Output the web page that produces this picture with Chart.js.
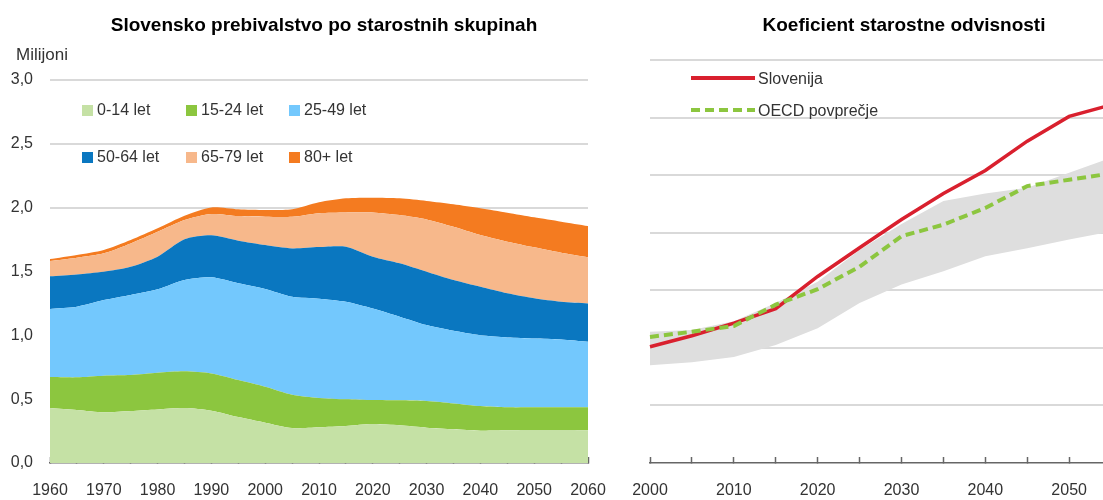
<!DOCTYPE html>
<html>
<head>
<meta charset="utf-8">
<script src="https://cdn.jsdelivr.net/npm/chart.js@4.4.0/dist/chart.umd.min.js"></script>
<style>
  html, body { margin: 0; padding: 0; background: #fff; overflow: hidden; }
  #wrap { position: relative; width: 1103px; height: 500px; overflow: hidden; }
  #popChart { position: absolute; left: 0; top: 0; }
  #ratioChart { position: absolute; left: 600px; top: 0; }
  .txt { position: absolute; font-family: 'Liberation Sans', Arial, sans-serif; font-size: 16px; color: #333; white-space: nowrap; line-height: 22px; }
  .box { display: inline-block; width: 11px; height: 11px; margin-right: 4px; vertical-align: -1px; }
</style>
</head>
<body>
<div id="wrap">
  <canvas id="popChart" width="648" height="500"></canvas>
  <canvas id="ratioChart" width="608" height="500"></canvas>
  <div class="txt" style="left:16px;top:44px;font-size:17px">Milijoni</div>
  <div id="popLegend"></div>
  <div id="ratioLegend"></div>
</div>
<script>
// population by age group, millions
var years = [1960, 1965, 1970, 1975, 1980, 1985, 1990, 1995, 2000, 2005, 2010,
             2015, 2020, 2025, 2030, 2035, 2040, 2045, 2050, 2055, 2060]
var age0_14  = [0.430, 0.415, 0.397, 0.407, 0.420, 0.430, 0.410, 0.360, 0.316, 0.274, 0.280, 0.290, 0.305, 0.295, 0.277, 0.264, 0.253, 0.256, 0.258, 0.258, 0.256]
var age15_24 = [0.243, 0.256, 0.287, 0.282, 0.287, 0.288, 0.292, 0.290, 0.282, 0.261, 0.230, 0.209, 0.188, 0.196, 0.209, 0.203, 0.193, 0.180, 0.178, 0.178, 0.180]
var age25_49 = [0.533, 0.553, 0.592, 0.627, 0.653, 0.715, 0.752, 0.757, 0.765, 0.767, 0.777, 0.764, 0.717, 0.655, 0.594, 0.568, 0.554, 0.548, 0.540, 0.532, 0.514]
var age50_64 = [0.256, 0.253, 0.222, 0.221, 0.256, 0.319, 0.329, 0.334, 0.344, 0.379, 0.404, 0.431, 0.406, 0.418, 0.418, 0.398, 0.380, 0.345, 0.314, 0.295, 0.300]
var age65_79 = [0.120, 0.131, 0.144, 0.183, 0.195, 0.151, 0.167, 0.193, 0.222, 0.248, 0.266, 0.269, 0.347, 0.378, 0.410, 0.417, 0.405, 0.404, 0.399, 0.384, 0.361]
var age80p   = [0.015, 0.021, 0.026, 0.026, 0.027, 0.034, 0.052, 0.053, 0.052, 0.058, 0.085, 0.110, 0.115, 0.131, 0.144, 0.176, 0.210, 0.227, 0.235, 0.243, 0.245]
var ageLabels = ['0-14 let', '15-24 let', '25-49 let', '50-64 let', '65-79 let', '80+ let']
var ageColors = ['#c5e1a5', '#8cc63f', '#73c8fd', '#0a77c0', '#f7b88b', '#f47b20']

// old-age dependency ratio
var ratioYears = [2000, 2005, 2010, 2015, 2020, 2025, 2030, 2035, 2040, 2045, 2050, 2055, 2060]
var slovenia = [20.2, 22.1, 24.3, 26.8, 32.4, 37.4, 42.3, 46.8, 50.8, 55.9, 60.2, 62.2, 63.0]
var oecd     = [21.9, 22.8, 23.8, 27.5, 30.2, 34.1, 39.4, 41.4, 44.3, 48.1, 49.2, 50.3, 51.0]
var bandLow  = [17.0, 17.5, 18.4, 20.5, 23.4, 27.8, 31.0, 33.3, 35.9, 37.3, 38.8, 40.2, 41.0]
var bandHigh = [22.8, 23.1, 24.6, 27.8, 31.5, 37.0, 41.5, 45.5, 46.8, 47.8, 50.4, 53.0, 55.0]

var FONT = "'Liberation Sans', Arial, sans-serif"
Chart.defaults.font.family = FONT
Chart.defaults.color = '#333'

var ageSeries = [age0_14, age15_24, age25_49, age50_64, age65_79, age80p]
var popDatasets = []
ageSeries.forEach(function (vals, i) {
  popDatasets.push({
    label: ageLabels[i],
    data: vals,
    backgroundColor: ageColors[i],
    borderWidth: 0,
    pointRadius: 0,
    fill: i === 0 ? 'origin' : '-1',
    tension: 0.25
  })
})

var popChart = new Chart(document.getElementById('popChart'), {
  type: 'line',
  data: { labels: years, datasets: popDatasets },
  options: {
    responsive: false,
    animation: false,
    devicePixelRatio: 1,
    layout: { padding: { left: 0, right: 0, top: 0, bottom: 1 } },
    plugins: {
      legend: { display: false },
      tooltip: { enabled: false },
      title: {
        display: true,
        text: 'Slovensko prebivalstvo po starostnih skupinah',
        color: '#000',
        font: { size: 19, weight: 'bold' },
        padding: { top: 14, bottom: 43.2 }
      }
    },
    scales: {
      x: {
        afterFit: function (s) { s.height = 36 },
        grid: { drawOnChartArea: false, color: '#666', tickLength: -6, tickWidth: 1.5 },
        border: { color: '#666', width: 1.5 },
        ticks: {
          autoSkip: false, maxRotation: 0, padding: 24, font: { size: 16 },
          callback: function (v, i) { return i % 2 === 0 ? years[i] : '' }
        }
      },
      y: {
        stacked: true,
        min: 0, max: 3,
        afterFit: function (s) { s.width = 50 },
        grid: {
          drawTicks: false, lineWidth: 2,
          color: function (c) { return c.tick && c.tick.value === 0 ? 'rgba(0,0,0,0)' : '#d9d9d9' }
        },
        border: { display: false },
        ticks: {
          stepSize: 0.5, padding: 17, font: { size: 16 },
          callback: function (v) { return v.toFixed(1).replace('.', ',') }
        }
      },
      yPad: {
        position: 'right',
        afterFit: function (s) { s.width = 60 },
        grid: { display: false }, border: { display: false }, ticks: { display: false }
      }
    }
  }
})

var ratioChart = new Chart(document.getElementById('ratioChart'), {
  type: 'line',
  data: {
    labels: ratioYears,
    datasets: [
      { label: 'OECD povprečje', data: oecd, borderColor: '#8cc63f', borderWidth: 4, borderDash: [9, 5], pointRadius: 0, fill: false },
      { label: 'Slovenija', data: slovenia, borderColor: '#d9202e', borderWidth: 3.5, pointRadius: 0, fill: false },
      { label: 'low', data: bandLow, borderWidth: 0, pointRadius: 0, fill: false },
      { label: 'high', data: bandHigh, borderWidth: 0, pointRadius: 0, fill: '-1', backgroundColor: '#dedede' }
    ]
  },
  options: {
    responsive: false,
    animation: false,
    devicePixelRatio: 1,
    layout: { padding: { left: 0, right: 0, top: 0, bottom: 1 } },
    plugins: {
      legend: { display: false },
      tooltip: { enabled: false },
      title: {
        display: true,
        text: 'Koeficient starostne odvisnosti',
        color: '#000',
        font: { size: 19, weight: 'bold' },
        padding: { top: 14, bottom: 23.2 }
      }
    },
    scales: {
      x: {
        afterFit: function (s) { s.height = 36 },
        grid: { drawOnChartArea: false, color: '#666', tickLength: -6, tickWidth: 1.5 },
        border: { color: '#666', width: 1.5 },
        ticks: {
          autoSkip: false, maxRotation: 0, padding: 24, font: { size: 16 },
          callback: function (v, i) { return i % 2 === 0 ? ratioYears[i] : '' }
        }
      },
      y: {
        min: 0, max: 70,
        afterFit: function (s) { s.width = 50 },
        grid: {
          drawTicks: false, lineWidth: 2,
          color: function (c) { return c.tick && c.tick.value === 0 ? 'rgba(0,0,0,0)' : '#d9d9d9' }
        },
        border: { display: false },
        ticks: { display: false, stepSize: 10 }
      },
      yPad: {
        position: 'right',
        afterFit: function (s) { s.width = 55 },
        grid: { display: false }, border: { display: false }, ticks: { display: false }
      }
    }
  }
})

// legends built from the chart datasets
var popLeg = document.getElementById('popLegend')
var cols = [82, 186, 289], rows = [99, 146]
popChart.data.datasets.forEach(function (ds, i) {
  var d = document.createElement('div')
  d.className = 'txt'
  d.style.left = cols[i % 3] + 'px'
  d.style.top = rows[Math.floor(i / 3)] + 'px'
  d.innerHTML = '<span class="box" style="background:' + ds.backgroundColor + '"></span>' + ds.label
  popLeg.appendChild(d)
})

var ratioLeg = document.getElementById('ratioLegend')
var lineRows = [68, 100]
;[1, 0].forEach(function (idx, r) {
  var ds = ratioChart.data.datasets[idx]
  var d = document.createElement('div')
  d.className = 'txt'
  d.style.left = '690px'
  d.style.top = lineRows[r] + 'px'
  var dash = ds.borderDash ? ' stroke-dasharray="9,5"' : ''
  d.innerHTML = '<svg width="66" height="10" style="vertical-align:1px;margin-right:2px"><line x1="1" y1="5" x2="65" y2="5" stroke="' +
    ds.borderColor + '" stroke-width="4"' + dash + '/></svg>' + ds.label
  ratioLeg.appendChild(d)
})
</script>
</body>
</html>
